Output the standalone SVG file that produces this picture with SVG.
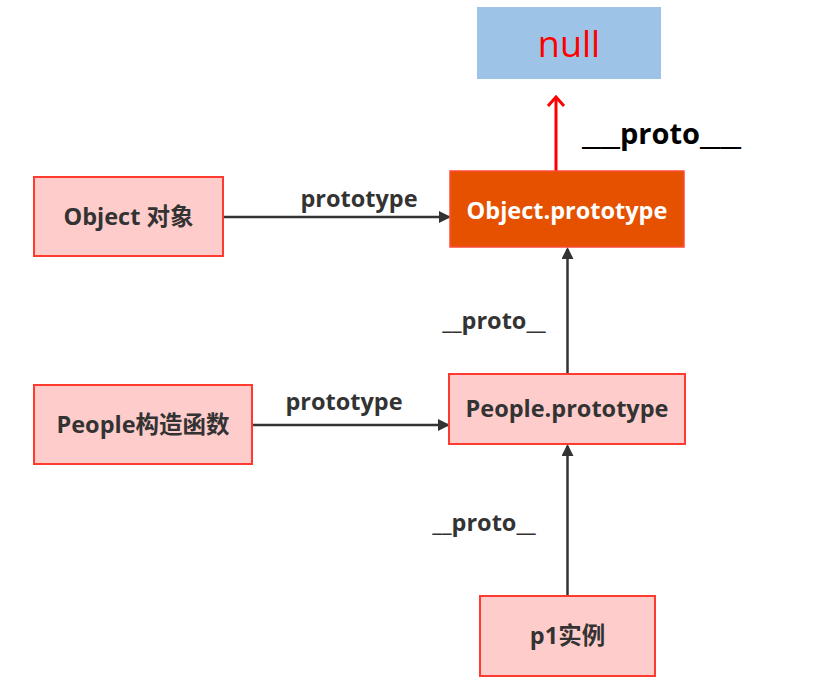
<svg xmlns="http://www.w3.org/2000/svg" width="840" height="692" viewBox="0 0 840 692">
<style>
.box{fill:#ffcccc;stroke:#ff3b30;stroke-width:2}
.lbl{font-family:"Open Sans","Noto Sans CJK SC",sans-serif;font-weight:bold;font-size:23.5px;fill:#333333;text-anchor:middle}
.edge{stroke:#333333;stroke-width:2.5;fill:none}
.elbl{font-family:"Open Sans","Noto Sans CJK SC",sans-serif;font-weight:bold;font-size:23.5px;fill:#333333;text-anchor:middle}
</style>
<defs>
<marker id="ah" markerWidth="12" markerHeight="12" refX="10" refY="6" orient="auto" markerUnits="userSpaceOnUse">
<path d="M0,0 L12,6 L0,12 Z" fill="#333333"/>
</marker>
<marker id="ahr" markerWidth="20" markerHeight="20" refX="10" refY="10" orient="auto" markerUnits="userSpaceOnUse">
<path d="M1,2 L10,10 L1,18" fill="none" stroke="#ff0000" stroke-width="3"/>
</marker>
</defs>
<rect width="840" height="692" fill="#ffffff"/>
<g id="connectors">
<line class="edge" x1="223" y1="217" x2="449" y2="217" marker-end="url(#ah)"/>
<line class="edge" x1="252" y1="425" x2="448" y2="425" marker-end="url(#ah)"/>
<line class="edge" x1="567.5" y1="374" x2="567.5" y2="249" marker-end="url(#ah)"/>
<line class="edge" x1="567.5" y1="596" x2="567.5" y2="446" marker-end="url(#ah)"/>
<line x1="556" y1="171" x2="556" y2="97" stroke="#ff0000" stroke-width="3" marker-end="url(#ahr)"/>
<text class="elbl" x="359" y="207">prototype</text>
<text class="elbl" x="344" y="410">prototype</text>
<text class="elbl" x="494" y="329">__proto__</text>
<text class="elbl" x="484" y="531">__proto__</text>
<text x="582" y="144" font-family="'Open Sans','Noto Sans CJK SC',sans-serif" font-weight="bold" font-size="29" fill="#000000"><tspan textLength="38" lengthAdjust="spacingAndGlyphs">__</tspan><tspan>proto</tspan><tspan textLength="41" lengthAdjust="spacingAndGlyphs">__</tspan></text>
</g>
<g id="null">
<rect x="477" y="7" width="184" height="72" fill="#9dc3e6"/>
<text x="569" y="57" font-family="'Open Sans','Noto Sans CJK SC',sans-serif" font-size="36" fill="#ff0000" text-anchor="middle">null</text>
</g>
<g id="object-prototype">
<rect x="450" y="171" width="234" height="76" fill="#e65100" stroke="#ff4a3a" stroke-width="1.5"/>
<text class="lbl" x="567" y="219" style="fill:#ffffff">Object.prototype</text>
</g>
<g id="object">
<rect class="box" x="34" y="177" width="189" height="79"/>
<text class="lbl" x="128.5" y="225">Object 对象</text>
</g>
<g id="people-ctor">
<rect class="box" x="34" y="385" width="218" height="79"/>
<text class="lbl" x="143" y="433">People构造函数</text>
</g>
<g id="people-prototype">
<rect class="box" x="449" y="374" width="236" height="70"/>
<text class="lbl" x="567" y="417">People.prototype</text>
</g>
<g id="p1">
<rect class="box" x="480" y="596" width="175" height="80"/>
<text class="lbl" x="567.5" y="644">p1实例</text>
</g>
</svg>
